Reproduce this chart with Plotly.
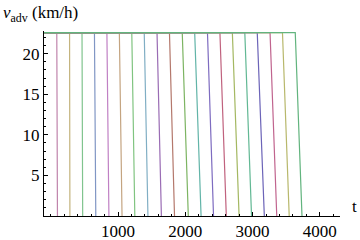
import plotly.graph_objects as go

# data
t_origin = -100          # time at which the curves start (left edge)
v_max = 22.6             # free-flow speed (km/h)
t_brake_start = [90, 280, 465, 650, 835, 1020, 1205, 1390, 1580, 1765,
                 1955, 2140, 2330, 2515, 2700, 2885, 3070, 3260, 3445, 3635]
t_stop = [100, 285, 475, 670, 865, 1060, 1250, 1445, 1645, 1840,
          2045, 2235, 2420, 2610, 2800, 2985, 3175, 3360, 3545, 3735]
x_ticks = [1000, 2000, 3000, 4000]
y_ticks = [5, 10, 15, 20]

colors = ["#c084ac", "#c4b47e", "#80c48e", "#8096c4", "#c080c4", "#c4a480",
          "#80c480", "#80aec4", "#9a6cb4", "#b4786c", "#7cb462", "#62b4a8",
          "#7e6cc0", "#c0627e", "#a4b862", "#62b894", "#6c64b8", "#c0648e",
          "#b8b86c", "#62b47e"]

fig = go.Figure()
for i, (ts, te) in enumerate(zip(t_brake_start, t_stop)):
    fig.add_trace(go.Scatter(
        x=[t_origin, ts, te], y=[v_max, v_max, 0],
        mode="lines", line=dict(color=colors[i % len(colors)], width=1.2),
        showlegend=False, hoverinfo="skip"))

font = dict(family="'Times New Roman', 'Liberation Serif', 'DejaVu Serif', serif",
            size=17, color="black")

fig.update_layout(
    width=360, height=240,
    margin=dict(l=44, r=20, t=31, b=24),
    paper_bgcolor="white", plot_bgcolor="white",
    font=font,
    xaxis=dict(range=[-100, 4300], showgrid=False, zeroline=False,
               automargin=False,
               showline=True, linecolor="black", linewidth=1,
               ticks="inside", ticklen=4, tickcolor="black",
               tickvals=x_ticks, ticktext=[str(v) for v in x_ticks],
               minor=dict(ticks="inside", ticklen=2, dtick=200, tick0=0,
                          tickcolor="black", showgrid=False),
               tickfont=font),
    yaxis=dict(range=[0, 22.8], showgrid=False, zeroline=False,
               automargin=False,
               showline=True, linecolor="black", linewidth=1,
               ticks="inside", ticklen=4, tickcolor="black",
               tickvals=y_ticks, ticktext=[str(v) for v in y_ticks],
               minor=dict(ticks="inside", ticklen=2, dtick=1, tick0=0,
                          tickcolor="black", showgrid=False),
               tickfont=font),
    annotations=[
        dict(text="<i>v</i><sub>adv</sub> (km/h)", xref="paper", yref="paper",
             x=-43/296, y=1 + 17/185, xanchor="left", yanchor="middle",
             showarrow=False, font=font),
        dict(text="t", xref="paper", yref="paper",
             x=1 + 14/296, y=10/185, xanchor="center", yanchor="middle",
             showarrow=False, font=font),
    ],
)

fig.write_html("out.html",
               config={"displayModeBar": False},
               post_script="document.body.style.margin='0';"
                           "document.body.style.overflow='hidden';")
